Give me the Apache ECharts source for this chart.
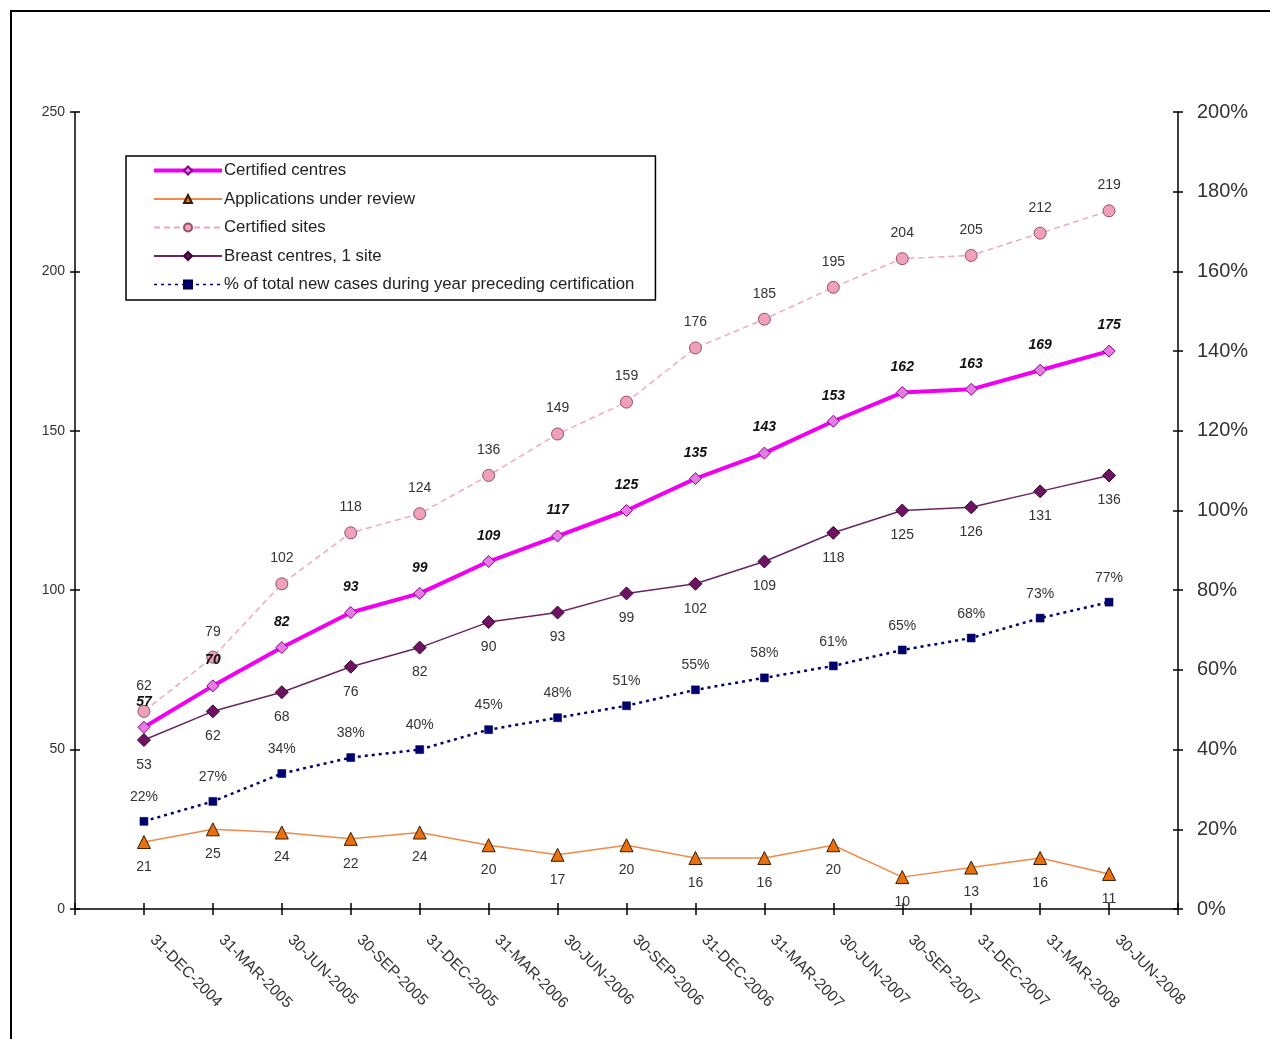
<!DOCTYPE html>
<html>
<head>
<meta charset="utf-8">
<script src="https://cdn.jsdelivr.net/npm/echarts@6/dist/echarts.min.js"></script>
<style>
  html, body { margin: 0; padding: 0; background: #fff; }
  #chart { width: 1270px; height: 1039px; }
</style>
</head>
<body>
<div id="chart"></div>
<script>
// Quarter-end reporting dates
const categories = ['31-DEC-2004', '31-MAR-2005', '30-JUN-2005', '30-SEP-2005', '31-DEC-2005',
  '31-MAR-2006', '30-JUN-2006', '30-SEP-2006', '31-DEC-2006', '31-MAR-2007', '30-JUN-2007',
  '30-SEP-2007', '31-DEC-2007', '31-MAR-2008', '30-JUN-2008'];

const certifiedCentres = [57, 70, 82, 93, 99, 109, 117, 125, 135, 143, 153, 162, 163, 169, 175];
const applicationsUnderReview = [21, 25, 24, 22, 24, 20, 17, 20, 16, 16, 20, 10, 13, 16, 11];
const certifiedSites = [62, 79, 102, 118, 124, 136, 149, 159, 176, 185, 195, 204, 205, 212, 219];
const breastCentresOneSite = [53, 62, 68, 76, 82, 90, 93, 99, 102, 109, 118, 125, 126, 131, 136];
const pctNewCases = [22, 27, 34, 38, 40, 45, 48, 51, 55, 58, 61, 65, 68, 73, 77];

const leftTicks = [0, 50, 100, 150, 200, 250];
const rightTicks = [0, 20, 40, 60, 80, 100, 120, 140, 160, 180, 200];

const FONT = '"Liberation Sans", Arial, sans-serif';
const TXT = '#333';

// dates sit at positions 1..15 on a 0..16 axis
const pts = arr => arr.map((v, i) => [i + 1, v]);

const baseLabel = (pos, extra) => Object.assign({
  show: true, position: pos, distance: 11,
  fontFamily: FONT, fontSize: 14, color: TXT
}, extra || {});

const chart = echarts.init(document.getElementById('chart'), null, { renderer: 'canvas' });

const axisLineStyle = { color: '#000', width: 1.5 };
const tickStyle = { color: '#000', width: 1.5 };

// each axis is drawn twice (outer + inner ticks) so the ticks cross the axis line
const yAxisCommon = (pos, min, max, step, inside) => ({
  type: 'value', position: pos, min: min, max: max, interval: step,
  splitLine: { show: false },
  axisLine: { show: !inside, onZero: false, lineStyle: axisLineStyle },
  axisTick: { show: true, inside: inside, length: 5, lineStyle: tickStyle }
});

const styles = {
  centres: { line: { color: '#F000F0', width: 4 }, item: { color: '#E47CE4', borderColor: '#8A008A', borderWidth: 1 } },
  apps: { line: { color: '#F08A4A', width: 1.5 }, item: { color: '#E8700F', borderColor: '#3A1A00', borderWidth: 1 } },
  sites: { line: { color: '#F2A6C6', width: 1.5, type: [6, 4] }, item: { color: '#F0A0B8', borderColor: '#94506A', borderWidth: 1 } },
  breast: { line: { color: '#6A2462', width: 1.5 }, item: { color: '#6E1262', borderColor: '#3A0634', borderWidth: 1 } },
  pct: { line: { color: '#00006E', width: 2, type: [3, 4] }, item: { color: '#00006E', borderColor: '#00004A', borderWidth: 0.5 } }
};

chart.setOption({
  backgroundColor: '#fff',
  animation: false,
  textStyle: { fontFamily: FONT },
  grid: { left: 75, right: 92, top: 112, bottom: 130, containLabel: false },
  graphic: [
    { type: 'line', shape: { x1: 10, y1: 11, x2: 1270, y2: 11 }, style: { stroke: '#000', lineWidth: 2 } },
    { type: 'line', shape: { x1: 11, y1: 10, x2: 11, y2: 1039 }, style: { stroke: '#000', lineWidth: 2 } }
  ],
  legend: {
    orient: 'vertical',
    left: 126, top: 156,
    padding: [6, 21, 7, 26],
    borderColor: '#000', borderWidth: 1.5,
    backgroundColor: '#fff',
    itemWidth: 68, itemHeight: 10, itemGap: 11.5,
    textStyle: { fontFamily: FONT, fontSize: 16.8, color: '#222', padding: [0, 0, 0, -3] },
    data: [
      { name: 'Certified centres', lineStyle: styles.centres.line },
      { name: 'Applications under review' },
      { name: 'Certified sites' },
      { name: 'Breast centres, 1 site' },
      { name: '% of total new cases during year preceding certification', lineStyle: { width: 1.5 } }
    ]
  },
  xAxis: [
    {
      type: 'value', min: 0, max: 16, interval: 1,
      splitLine: { show: false },
      axisLine: { onZero: false, lineStyle: axisLineStyle },
      axisTick: { show: true, length: 6, lineStyle: tickStyle },
      axisLabel: {
        rotate: -45, margin: 20, padding: [0, 0, 0, 12], fontFamily: FONT, fontSize: 15.5, color: TXT,
        formatter: v => (v >= 1 && v <= categories.length) ? categories[v - 1] : ''
      }
    },
    {
      type: 'value', min: 0, max: 16, interval: 1, position: 'bottom',
      splitLine: { show: false }, axisLine: { show: false, onZero: false },
      axisTick: { show: true, inside: true, length: 6, lineStyle: tickStyle },
      axisLabel: { show: false }
    }
  ],
  yAxis: [
    Object.assign(yAxisCommon('left', leftTicks[0], leftTicks[leftTicks.length - 1], 50, false), {
      axisLabel: { margin: 10, fontFamily: FONT, fontSize: 14, color: TXT }
    }),
    Object.assign(yAxisCommon('right', rightTicks[0], rightTicks[rightTicks.length - 1], 20, false), {
      axisLabel: { margin: 19, fontFamily: FONT, fontSize: 20, color: TXT, formatter: v => v + '%' }
    }),
    Object.assign(yAxisCommon('left', 0, 250, 50, true), { axisLabel: { show: false } }),
    Object.assign(yAxisCommon('right', 0, 200, 20, true), { axisLabel: { show: false } })
  ],
  series: [
    {
      name: 'Certified sites', type: 'line', yAxisIndex: 0, z: 2,
      data: pts(certifiedSites),
      symbol: 'circle', symbolSize: 12,
      lineStyle: styles.sites.line, itemStyle: styles.sites.item,
      label: baseLabel('top', { distance: 12 })
    },
    {
      name: 'Breast centres, 1 site', type: 'line', yAxisIndex: 0, z: 3,
      data: pts(breastCentresOneSite),
      symbol: 'diamond', symbolSize: 13,
      lineStyle: styles.breast.line, itemStyle: styles.breast.item,
      label: baseLabel('bottom', { distance: 11 })
    },
    {
      name: '% of total new cases during year preceding certification', type: 'line', yAxisIndex: 1, z: 3,
      data: pts(pctNewCases),
      symbol: 'rect', symbolSize: 8,
      lineStyle: Object.assign({}, styles.pct.line, { width: 2.5 }), itemStyle: styles.pct.item,
      label: baseLabel('top', { distance: 13, formatter: p => p.value[1] + '%' })
    },
    {
      name: 'Applications under review', type: 'line', yAxisIndex: 0, z: 3,
      data: pts(applicationsUnderReview),
      symbol: 'triangle', symbolSize: 13,
      lineStyle: styles.apps.line, itemStyle: styles.apps.item,
      label: baseLabel('bottom', { distance: 11 })
    },
    {
      name: 'Certified centres', type: 'line', yAxisIndex: 0, z: 4,
      data: pts(certifiedCentres),
      symbol: 'diamond', symbolSize: 12,
      lineStyle: styles.centres.line, itemStyle: styles.centres.item,
      label: baseLabel('top', { distance: 12, fontWeight: 'bold', fontStyle: 'italic', color: '#111' })
    }
  ]
});
</script>
</body>
</html>
